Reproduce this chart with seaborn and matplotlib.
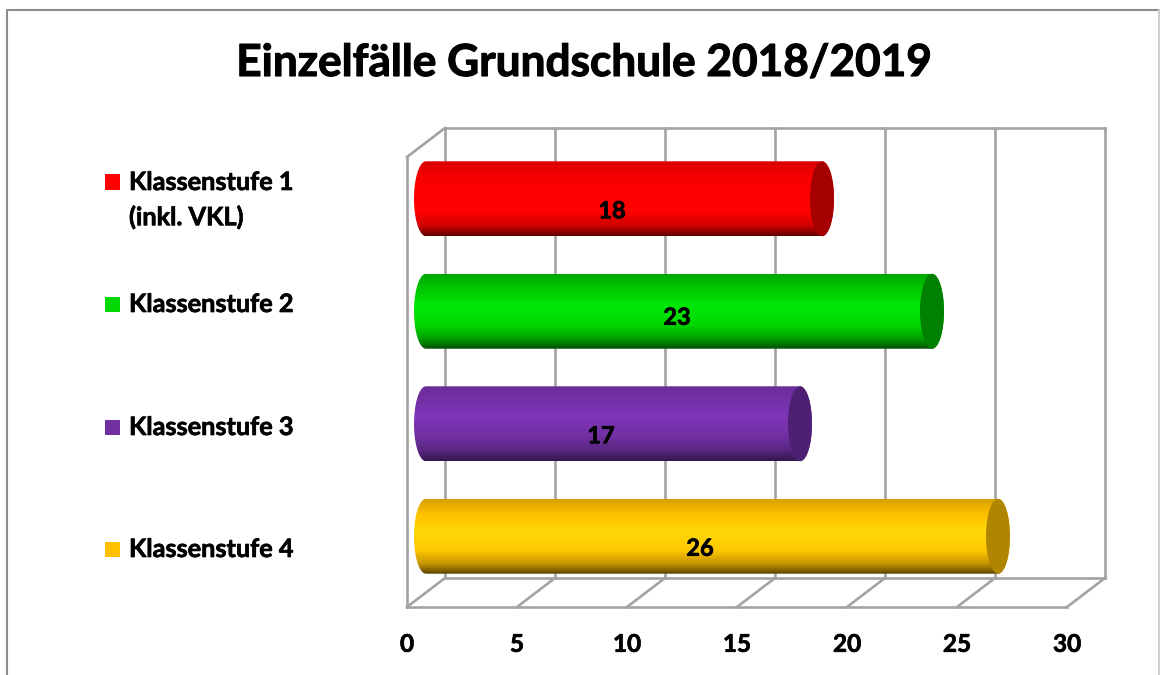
import numpy as np
import pandas as pd
import seaborn as sns
import matplotlib.pyplot as plt
import matplotlib.patheffects as pe
from matplotlib.colors import LinearSegmentedColormap
from matplotlib.lines import Line2D
from matplotlib.patches import Ellipse, PathPatch, Rectangle
from matplotlib.path import Path
from matplotlib.transforms import ScaledTranslation

title = 'Einzelfälle Grundschule 2018/2019'
categories = ['Klassenstufe 1', 'Klassenstufe 2', 'Klassenstufe 3', 'Klassenstufe 4']
legend_labels = ['Klassenstufe 1\n(inkl. VKL)', 'Klassenstufe 2', 'Klassenstufe 3', 'Klassenstufe 4']
values = [18, 23, 17, 26]
x_ticks = [0, 5, 10, 15, 20, 25, 30]

# colours of the cylinders, top to bottom
base_colors = ['#ff0000', '#00d800', '#7030a0', '#ffc000']
cap_colors = ['#a50000', '#008000', '#4e2074', '#b08600']
shades = [
    ['#d80000', '#f80000', '#ff0000', '#ff0000', '#d00000', '#600000'],
    ['#00a800', '#00c800', '#00e808', '#00d800', '#00a000', '#004e00'],
    ['#6a2d98', '#7431a8', '#7f36b8', '#7030a0', '#582680', '#341650'],
    ['#d8a000', '#ffc000', '#ffd808', '#ffc800', '#c89600', '#5c4400'],
]
shade_stops = [0, 0.2, 0.42, 0.68, 0.86, 1]

W, H = 1160, 675
DEPTH_X, DEPTH_Y = 19, 14.5
CAP_PX = 12
FRAME = '#a3a3a3'

sns.set_style('white')
plt.rcParams['font.family'] = ['Lato', 'DejaVu Sans']
plt.rcParams['font.weight'] = 'bold'


def fx(px):
    return px / W


def fy(py):
    return 1 - py / H


# Lato bold is a bit thinner than the original font
heavy = [pe.withStroke(linewidth=0.5, foreground='black')]

fig = plt.figure(figsize=(W / 100, H / 100), dpi=100)
# the axes is the middle of the 3D box, the walls are shifted from it
ax = fig.add_axes([fx(426), fy(592.5), 660 / W, 450 / H])

df = pd.DataFrame({'Stufe': categories, 'Anzahl': values})
sns.barplot(data=df, y='Stufe', x='Anzahl', hue='Stufe', palette=base_colors,
            width=0.666, legend=False, ax=ax, zorder=3)
ax.set_xlim(0, 30)
ax.set_ylim(3.5, -0.5)
ax.set_xlabel('')
ax.set_ylabel('')
ax.set_yticks([])
ax.patch.set_alpha(0)
for s in ax.spines.values():
    s.set_visible(False)

back = ax.transData + ScaledTranslation(DEPTH_X / 100, DEPTH_Y / 100, fig.dpi_scale_trans)
front = ax.transData + ScaledTranslation(-DEPTH_X / 100, -DEPTH_Y / 100, fig.dpi_scale_trans)
line_kw = dict(color=FRAME, lw=1.9, clip_on=False, zorder=1, solid_capstyle='projecting')

# back wall and floor
y_top, y_floor = -0.5, 3.5
for t in x_ticks:
    ax.plot([t, t], [y_top, y_floor], transform=back, **line_kw)
    p0 = front.transform((t, y_floor))
    p1 = back.transform((t, y_floor))
    ax.add_line(Line2D([p0[0], p1[0]], [p0[1], p1[1]], transform=None, **line_kw))
ax.plot([0, 30], [y_top, y_top], transform=back, **line_kw)
ax.plot([0, 30], [y_floor, y_floor], transform=back, **line_kw)
ax.plot([0, 30], [y_floor, y_floor], transform=front, **line_kw)
ax.plot([0, 0], [y_top, y_floor], transform=front, **line_kw)
p0 = front.transform((0, y_top))
p1 = back.transform((0, y_top))
ax.add_line(Line2D([p0[0], p1[0]], [p0[1], p1[1]], transform=None, **line_kw))

# cylinders on top of the seaborn bars
cap_w = CAP_PX * 30 / 660
theta = np.linspace(0, np.pi, 60)
for i, cont in enumerate(ax.containers):
    bar = cont[0]
    bar.set_visible(False)
    v, y0, h = bar.get_width(), bar.get_y(), bar.get_height()
    yc = y0 + h / 2
    left = np.column_stack([-cap_w * np.sin(theta), yc - h / 2 * np.cos(theta)])
    right = np.column_stack([v + cap_w * np.sin(theta), yc + h / 2 * np.cos(theta)])
    outline = np.vstack([left, right, left[:1]])
    clip = PathPatch(Path(outline), transform=ax.transData, fc='none', ec='none')
    ax.add_patch(clip)
    cmap = LinearSegmentedColormap.from_list('c%d' % i, list(zip(shade_stops, shades[i])))
    im = ax.imshow(np.linspace(0, 1, 256)[:, None], cmap=cmap, aspect='auto', origin='upper',
                   extent=(-cap_w, v + cap_w, y0 + h, y0), interpolation='bilinear', zorder=4)
    im.set_clip_path(clip)
    im.set_clip_box(fig.bbox)
    ax.add_patch(Ellipse((v, yc), 2 * cap_w, h, fc=cap_colors[i], ec='none', zorder=5))
ax.set_xlim(0, 30)
ax.set_ylim(3.5, -0.5)

# value labels, each sits a bit differently in the original
label_dx = [-12, -2, -12, -12]
label_dy = [-12, -6, -12, -12]
for i, v in enumerate(values):
    ax.annotate(str(v), (v / 2, i), xytext=(label_dx[i], label_dy[i]), textcoords='offset pixels',
                ha='center', va='center', fontsize=17, fontweight='bold', color='black', zorder=6,
                path_effects=heavy)

ax.set_xticks(x_ticks)
ax.set_xticklabels([str(t) for t in x_ticks], fontsize=17.5, fontweight='bold', color='black',
                   path_effects=heavy)
ax.tick_params(axis='x', length=0, pad=29)
shift = ScaledTranslation(-DEPTH_X / 100, 0, fig.dpi_scale_trans)
for lab in ax.get_xticklabels():
    lab.set_transform(lab.get_transform() + shift)

fig.text(fx(584), fy(63), title, ha='center', va='center', fontsize=31.8, fontweight='bold',
         color='black', path_effects=[pe.withStroke(linewidth=0.8, foreground='black')])

# legend on the left
legend_y = [182, 304, 427, 549]
for lab, c, y in zip(legend_labels, base_colors, legend_y):
    fig.add_artist(Rectangle((fx(105), fy(y + 7.5)), 15 / W, 15 / H, transform=fig.transFigure,
                             fc=c, ec='none'))
    fig.text(fx(129), fy(y - 11), lab, ha='left', va='top', fontsize=18.2, fontweight='bold',
             color='black', linespacing=1.6, path_effects=heavy)

# outer border of the chart
fig.add_artist(Line2D([fx(7), fx(7), fx(1160)], [fy(675), fy(10), fy(10)], color='#8c8c8c', lw=1.5))
fig.add_artist(Line2D([fx(1159), fx(1159)], [fy(10), fy(675)], color='#d0d0d0', lw=1.5))

fig.savefig('out.png', dpi=100)
